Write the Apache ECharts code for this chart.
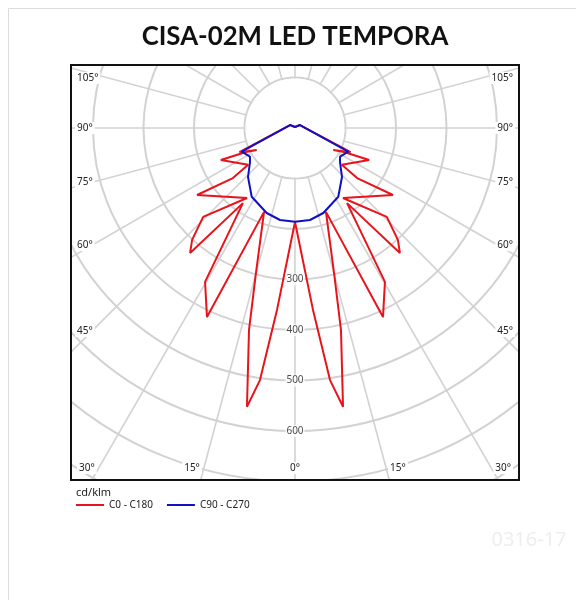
<!DOCTYPE html>
<html><head><meta charset="utf-8">
<script src="https://cdn.jsdelivr.net/npm/echarts@6/dist/echarts.min.js"></script>
<style>html,body{margin:0;padding:0;background:#fff}#c{width:576px;height:600px}</style>
</head><body><div id="c"></div>
<script>
// ---------- data ----------
const chartTitle = 'CISA-02M LED TEMPORA';
const unitLabel = 'cd/klm';
const seriesNames = ['C0 - C180', 'C90 - C270'];
const radialLabels = [300, 400, 500, 600];
const sideAngleLabels = [105, 90, 75, 60, 45];
const bottomAngleLabels = [30, 15, 0];
const watermark = '0316-17';
// C0 - C180 plane, one half (gamma in degrees, intensity cd/klm), mirrored for the other half
const redGamma = [0, 5.65, 7.91, 9.78, 12.83, 15.03, 20.26, 24.96, 30.3, 34.73, 40.03, 42.6, 45.94, 34.44, 55.64, 51.11, 51.79, 66.61, 63.9, 60.1, 66.5, 121, 180];
const redValue = [186, 362, 504, 560, 410, 299, 177, 413, 353, 181, 323, 301, 253, 168, 235, 158, 118, 160, 108, 87.5, 120, 11.5, 2];
// C90 - C270 plane, one half
const blueGamma = [0, 9.26, 18.42, 32.2, 43.8, 52.9, 57.5, 66.03, 121, 180];
const blueValue = [185.5, 184.6, 177.4, 160.8, 134.4, 111.7, 105.7, 115.5, 11.5, 2];

// ---------- layout ----------
const CX = 295, CY = 128, PX_PER_UNIT = 0.505;
const BOX = {x0: 71, y0: 65, x1: 519, y1: 480};
const RMAX = 900, RINNER = 100;
const FONT = 'Noto Sans';

function loop(g, v) {
  const pts = g.map((a, i) => [v[i], a]);
  for (let i = g.length - 1; i >= 0; i--) pts.push([v[i], 360 - g[i]]);
  return pts;
}

const chart = echarts.init(document.getElementById('c'), null, {renderer: 'canvas'});

const gfx = [];
// inner disc without spokes (keeps the 100 circle)
gfx.push({type: 'circle', z: 1, silent: true, shape: {cx: CX, cy: CY, r: RINNER * PX_PER_UNIT - 1}, style: {fill: '#fff'}});
// masks outside the box
gfx.push({type: 'rect', z: 50, silent: true, shape: {x: 0, y: 0, width: 576, height: BOX.y0}, style: {fill: '#fff'}});
gfx.push({type: 'rect', z: 50, silent: true, shape: {x: 0, y: 0, width: BOX.x0, height: 600}, style: {fill: '#fff'}});
gfx.push({type: 'rect', z: 50, silent: true, shape: {x: BOX.x1, y: 0, width: 576 - BOX.x1, height: 600}, style: {fill: '#fff'}});
gfx.push({type: 'rect', z: 50, silent: true, shape: {x: 0, y: BOX.y1, width: 576, height: 120}, style: {fill: '#fff'}});
// card border
gfx.push({type: 'rect', z: 55, silent: true, shape: {x: 8.5, y: 8.5, width: 600, height: 600}, style: {fill: 'none', stroke: '#dcdcdc', lineWidth: 1}});
// plot box
gfx.push({type: 'rect', z: 60, silent: true, shape: {x: BOX.x0, y: BOX.y0, width: BOX.x1 - BOX.x0, height: BOX.y1 - BOX.y0}, style: {fill: 'none', stroke: '#111', lineWidth: 2}});
// title
gfx.push({type: 'text', z: 70, x: CX, y: 37, style: {text: chartTitle, fill: '#111', font: 'bold 25.8px Lato', align: 'center', verticalAlign: 'middle'}});
// unit
gfx.push({type: 'text', z: 70, x: 76, y: 493, style: {text: unitLabel, fill: '#222', font: '11px ' + FONT, align: 'left', verticalAlign: 'middle'}});
// watermark
gfx.push({type: 'text', z: 70, x: 529, y: 540, style: {text: watermark, fill: '#eeeeee', font: '20px ' + FONT, align: 'center', verticalAlign: 'middle'}});

// angle labels along the box edges
const lblStyle = (t, align) => ({text: t + '°', fill: '#222', font: '10px ' + FONT, align: align, verticalAlign: 'middle', backgroundColor: '#fff', padding: [1, 2]});
sideAngleLabels.forEach(a => {
  const rad = a * Math.PI / 180;
  const dx = CX - (BOX.x0 + 21);
  let y = (a === 90) ? CY : CY + dx / Math.tan(rad);
  y = Math.max(y, BOX.y0 + 13);
  gfx.push({type: 'text', z: 70, x: BOX.x0 + 4, y: y, style: lblStyle(a, 'left')});
  gfx.push({type: 'text', z: 70, x: BOX.x1 - 4, y: y, style: lblStyle(a, 'right')});
});
bottomAngleLabels.forEach(a => {
  const yb = BOX.y1 - 12;
  const rad = a * Math.PI / 180;
  const dx = (yb - CY) * Math.tan(rad);
  if (a === 0) {
    gfx.push({type: 'text', z: 70, x: CX, y: yb, style: lblStyle(a, 'center')});
  } else {
    gfx.push({type: 'text', z: 70, x: CX - dx - 2, y: yb, style: lblStyle(a, 'right')});
    gfx.push({type: 'text', z: 70, x: CX + dx + 2, y: yb, style: lblStyle(a, 'left')});
  }
});

const option = {
  backgroundColor: '#fff',
  animation: false,
  polar: {center: [CX, CY], radius: [0, RMAX * PX_PER_UNIT]},
  angleAxis: {
    type: 'value', min: 0, max: 360, interval: 15, startAngle: -90, clockwise: true, z: 0,
    axisLine: {show: false}, axisTick: {show: false}, axisLabel: {show: false},
    splitLine: {show: true, lineStyle: {color: '#d2d2d2', width: 1.6}}
  },
  radiusAxis: {
    type: 'value', min: 0, max: RMAX, interval: 100, z: 0,
    axisLine: {show: false}, axisTick: {show: false}, axisLabel: {show: false},
    splitLine: {show: true, lineStyle: {color: '#d2d2d2', width: 2}}
  },
  legend: {
    left: 76, top: 500, padding: 0, itemWidth: 28, itemHeight: 2, itemGap: 14, icon: 'rect', z: 80,
    textStyle: {fontFamily: FONT, fontSize: 10, color: '#222'},
    data: seriesNames
  },
  series: [
    {name: seriesNames[0], type: 'line', coordinateSystem: 'polar', clip: false, symbol: 'none', z: 3,
     lineStyle: {color: '#e8141b', width: 2}, itemStyle: {color: '#e8141b'}, data: loop(redGamma, redValue)},
    {name: seriesNames[1], type: 'line', coordinateSystem: 'polar', clip: false, symbol: 'none', z: 4,
     lineStyle: {color: '#1010c8', width: 2}, itemStyle: {color: '#1010c8'}, data: loop(blueGamma, blueValue)},
    {type: 'scatter', coordinateSystem: 'polar', symbolSize: 1, z: 5, silent: true,
     itemStyle: {color: 'rgba(0,0,0,0)'},
     label: {show: true, position: 'inside', formatter: p => String(p.value[0]), fontFamily: FONT, fontSize: 10, color: '#222', backgroundColor: '#fff', padding: [1, 1]},
     data: radialLabels.map(r => [r, 0])}
  ],
  graphic: {elements: gfx}
};
chart.setOption(option);
</script></body></html>
